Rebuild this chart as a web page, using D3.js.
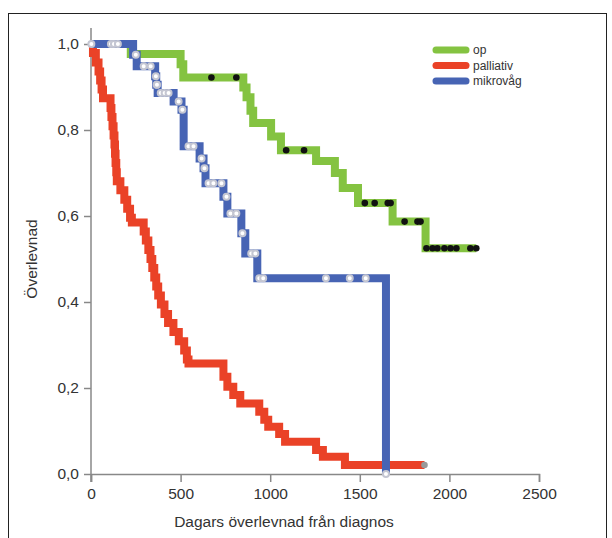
<!DOCTYPE html>
<html>
<head>
<meta charset="utf-8">
<script src="https://cdn.jsdelivr.net/npm/d3@7"></script>
<style>
  body { margin: 0; background: #fff; }
  svg { display: block; }
  text { font-family: "Liberation Sans", Arial, sans-serif; fill: #333; }
</style>
</head>
<body>
<div id="chart"></div>
<script>
// Kaplan-Meier steps: [day, survival after the event]
var opSteps = [[0, 1], [222, 0.977], [500, 0.953], [515, 0.922], [850, 0.899], [868, 0.876],
  [890, 0.845], [905, 0.816], [1005, 0.785], [1060, 0.753], [1256, 0.728], [1361, 0.700],
  [1405, 0.665], [1490, 0.630], [1683, 0.587], [1867, 0.525], [2150, 0.525]];
var opCensored = [672, 811, 1089, 1189, 1528, 1583, 1656, 1672, 1750, 1822, 1839,
  1872, 1906, 1933, 1972, 2006, 2039, 2117, 2150];

var palliativSteps = [[0, 1], [11, 0.979], [27, 0.957], [42, 0.936], [51, 0.915], [59, 0.894],
  [67, 0.874], [109, 0.851], [114, 0.830], [120, 0.809], [126, 0.787], [131, 0.766],
  [134, 0.745], [137, 0.723], [141, 0.702], [144, 0.681], [164, 0.660], [186, 0.638],
  [202, 0.617], [218, 0.596], [228, 0.585], [294, 0.564], [306, 0.543], [320, 0.521],
  [332, 0.500], [342, 0.479], [353, 0.457], [364, 0.436], [375, 0.415], [390, 0.394],
  [410, 0.372], [430, 0.351], [460, 0.330], [490, 0.309], [520, 0.287], [535, 0.266],
  [544, 0.257], [739, 0.226], [761, 0.203], [794, 0.184], [833, 0.164], [939, 0.145],
  [967, 0.126], [989, 0.110], [1050, 0.093], [1083, 0.075], [1256, 0.056], [1294, 0.040],
  [1417, 0.021], [1861, 0.021]];
var palliativCensored = [1861];

var mikroSteps = [[0, 1], [235, 0.975], [255, 0.948], [358, 0.925], [364, 0.905], [372, 0.886],
  [461, 0.866], [505, 0.847], [517, 0.762], [606, 0.734], [628, 0.711], [639, 0.676],
  [739, 0.645], [761, 0.606], [839, 0.560], [861, 0.513], [928, 0.455], [1646, 0]];
var mikroCensored = [2, 111, 128, 150, 250, 294, 333, 367, 362, 368, 389, 411, 433, 489, 510,
  544, 572, 617, 633, 656, 683, 728, 756, 778, 811, 845, 894, 917, 939, 961, 1311, 1444,
  1533, 1646];

var seriesNames = ["op", "palliativ", "mikrovåg"];
var xTicks = [0, 500, 1000, 1500, 2000, 2500];
var yTicks = [0, 0.2, 0.4, 0.6, 0.8, 1.0];

var W = 612, H = 538;
var colors = {op: "#84c341", palliativ: "#ea4227", "mikrovåg": "#4764b4"};

var svg = d3.select("#chart").append("svg")
    .attr("width", W)
    .attr("height", H);

// outer frame
svg.append("rect")
    .attr("x", 8.5).attr("y", 13.5)
    .attr("width", 598).attr("height", 540)
    .attr("fill", "none")
    .attr("stroke", "#222")
    .attr("stroke-width", 1);

var x = d3.scaleLinear().domain([0, 2500]).range([91, 539]);
var y = d3.scaleLinear().domain([0, 1]).range([474, 44]);

// axes
var xAxis = d3.axisBottom(x).tickValues(xTicks).tickSize(8).tickPadding(6)
    .tickFormat(d3.format("d"));
var yAxis = d3.axisLeft(y).tickValues(yTicks).tickSize(7).tickPadding(5)
    .tickFormat(function(d) { return d3.format(".1f")(d).replace(".", ","); });

var gx = svg.append("g")
    .attr("transform", "translate(0," + y(0) + ")")
    .call(xAxis);
var gy = svg.append("g")
    .attr("transform", "translate(" + x(0) + ",0)")
    .call(yAxis);

[gx, gy].forEach(function(g) {
  g.select(".domain").attr("stroke", "#888").attr("stroke-width", 1.5);
  g.selectAll(".tick line").attr("stroke", "#888").attr("stroke-width", 1.5);
  g.selectAll(".tick text").style("font-size", "15.5px").attr("fill", "#333");
});
// y axis line runs a bit above 1,0 and below 0,0
gy.select(".domain").attr("d", "M0,28V482");

// axis titles
svg.append("text")
    .attr("x", 284)
    .attr("y", 527)
    .attr("text-anchor", "middle")
    .style("font-size", "15.5px")
    .text("Dagars överlevnad från diagnos");
svg.append("text")
    .attr("transform", "translate(37," + y(0.5) + ") rotate(-90)")
    .attr("text-anchor", "middle")
    .style("font-size", "15.5px")
    .text("Överlevnad");

var line = d3.line()
    .x(function(d) { return x(d[0]); })
    .y(function(d) { return y(d[1]); })
    .curve(d3.curveStepAfter);

function survAt(steps, t) {
  var s = steps[0][1];
  steps.forEach(function(d) { if (d[0] <= t) s = d[1]; });
  return s;
}

var series = [
  {name: "op", steps: opSteps, cens: opCensored},
  {name: "palliativ", steps: palliativSteps, cens: palliativCensored},
  {name: "mikrovåg", steps: mikroSteps, cens: mikroCensored}
];

series.forEach(function(s) {
  svg.append("path")
      .datum(s.steps)
      .attr("d", line)
      .attr("fill", "none")
      .attr("stroke", colors[s.name])
      .attr("stroke-width", 8)
      .attr("stroke-linejoin", "miter");
});

// censor marks
svg.selectAll(".cens-op")
    .data(opCensored)
  .enter().append("circle")
    .attr("cx", function(d) { return x(d); })
    .attr("cy", function(d) { return y(survAt(opSteps, d)); })
    .attr("r", 3.3)
    .attr("fill", "#111");

svg.selectAll(".cens-pal")
    .data(palliativCensored)
  .enter().append("circle")
    .attr("cx", function(d) { return x(d); })
    .attr("cy", function(d) { return y(survAt(palliativSteps, d)); })
    .attr("r", 3.3)
    .attr("fill", "#999");

svg.selectAll(".cens-mik")
    .data(mikroCensored)
  .enter().append("circle")
    .attr("cx", function(d) { return x(d); })
    .attr("cy", function(d) { return y(survAt(mikroSteps, d)); })
    .attr("r", 3)
    .attr("fill", "#fff")
    .attr("stroke", "#c4c6d2")
    .attr("stroke-width", 2);

// legend
var legend = svg.append("g").attr("transform", "translate(436,50)");
seriesNames.forEach(function(n, i) {
  var g = legend.append("g").attr("transform", "translate(0," + i * 15.5 + ")");
  g.append("line")
      .attr("x1", 0).attr("x2", 30)
      .attr("stroke", colors[n])
      .attr("stroke-width", 7)
      .attr("stroke-linecap", "round");
  g.append("text")
      .attr("x", 37).attr("y", 4)
      .style("font-size", "12px")
      .text(n);
});
</script>
</body>
</html>
